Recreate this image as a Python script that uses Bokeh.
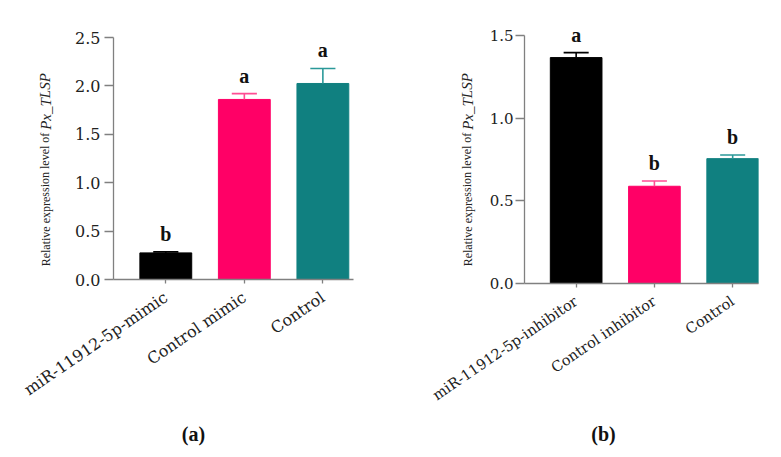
from bokeh.plotting import figure
from bokeh.models import ColumnDataSource, FixedTicker, Label, LabelSet, Range1d, GridBox
from bokeh.layouts import row
from bokeh.embed import file_html
from bokeh.resources import INLINE

# ---- data ----
cats_a = ["miR-11912-5p-mimic", "Control mimic", "Control"]
vals_a = [0.275, 1.86, 2.025]
err_a = [0.01, 0.06, 0.155]
letters_a = ["b", "a", "a"]

cats_b = ["miR-11912-5p-inhibitor", "Control inhibitor", "Control"]
vals_b = [1.366, 0.588, 0.755]
err_b = [0.03, 0.032, 0.022]
letters_b = ["a", "b", "b"]

yticks_a = [0.0, 0.5, 1.0, 1.5, 2.0, 2.5]
yticks_b = [0.0, 0.5, 1.0, 1.5]

bar_colors = ["#000000", "#FF0066", "#108080"]
err_colors = ["#000000", "#FF4D94", "#2A9999"]

YLAB = "Relative expression level of"
YLAB_IT = "Px_TLSP"
captions = ["(a)", "(b)"]

W, H = 773, 457


def panel(cats, vals, errs, letters, bl, br, bt, bb, xr, yr, yticks,
          tick_size, xlab_size, standoff):
    x = list(range(len(cats)))
    tops = [v + e for v, e in zip(vals, errs)]
    src = ColumnDataSource(dict(x=x, v=vals, top=tops, c=bar_colors, ec=err_colors,
                                lab=letters,
                                xl=[i - 0.16 for i in x], xr=[i + 0.16 for i in x]))
    p = figure(width=W, height=H, output_backend="svg", toolbar_location=None,
               x_range=Range1d(*xr), y_range=Range1d(*yr),
               min_border_left=bl, min_border_right=br, min_border_top=bt,
               min_border_bottom=bb)
    p.title = None
    p.outline_line_color = None
    p.grid.visible = False
    p.background_fill_color = None
    p.border_fill_color = None

    p.vbar(x="x", top="v", width=0.66, bottom=0, fill_color="c", line_color="c", source=src)
    p.segment(x0="x", y0="v", x1="x", y1="top", line_color="ec", line_width=1.6, source=src)
    p.segment(x0="xl", y0="top", x1="xr", y1="top", line_color="ec", line_width=1.6, source=src)

    p.add_layout(LabelSet(x="x", y="top", text="lab", source=src, y_offset=11,
                          text_align="center", text_baseline="alphabetic",
                          text_font="DejaVu Serif", text_font_size="20px",
                          text_font_style="bold", text_color="#111111"))

    ya = p.yaxis[0]
    ya.ticker = FixedTicker(ticks=yticks)
    ya.bounds = (yticks[0], yticks[-1])
    ya.major_label_overrides = {t: f"{t:.1f}" for t in yticks}
    ya.axis_line_color = "#808080"
    ya.major_tick_line_color = "#808080"
    ya.axis_line_width = 1.3
    ya.major_tick_line_width = 1.3
    ya.major_tick_out = 9
    ya.major_tick_in = 0
    ya.minor_tick_line_color = None
    ya.major_label_standoff = standoff
    ya.major_label_text_font = "DejaVu Serif"
    ya.major_label_text_font_size = tick_size
    ya.major_label_text_color = "#222222"

    xa = p.xaxis[0]
    xa.ticker = FixedTicker(ticks=x)
    xa.major_label_overrides = {i: c for i, c in zip(x, cats)}
    xa.major_label_orientation = 0.6
    xa.axis_line_color = "#808080"
    xa.major_tick_line_color = "#808080"
    xa.axis_line_width = 1.3
    xa.major_tick_line_width = 1.3
    xa.major_tick_out = 4
    xa.major_tick_in = 0
    xa.minor_tick_line_color = None
    xa.major_label_standoff = 12
    xa.major_label_text_font = "DejaVu Serif"
    xa.major_label_text_font_size = xlab_size
    xa.major_label_text_color = "#222222"
    return p


# panel (a): frame x 113..353, y 37..279 ; panel (b): frame x 524..758, y 25..283
pa = panel(cats_a, vals_a, err_a, letters_a, 113, W - 353, 37, H - 279,
           (-0.666, 2.39), (0, 2.5), yticks_a, "16px", "16px", 4)
pb = panel(cats_b, vals_b, err_b, letters_b, 524, W - 758, 25, H - 283,
           (-0.66, 2.33), (0, 1.56), yticks_b, "15px", "14.5px", 2)

# transparent overlay carrying the y-axis titles and the panel captions
ov = figure(width=W, height=H, output_backend="svg", toolbar_location=None,
            x_axis_location=None, y_axis_location=None, min_border=0,
            x_range=Range1d(0, 1), y_range=Range1d(0, 1))
ov.title = None
ov.outline_line_color = None
ov.grid.visible = False
ov.background_fill_color = None
ov.border_fill_color = None

for cx in [45, 467]:
    ov.add_layout(Label(x=cx, y=H - 199, x_units="screen", y_units="screen",
                        text=YLAB, angle=1.5708, text_align="center", text_baseline="middle",
                        text_font="Liberation Serif", text_font_size="12px",
                        text_color="#222222"))
    ov.add_layout(Label(x=cx, y=H - 101, x_units="screen", y_units="screen",
                        text=YLAB_IT, angle=1.5708, text_align="center", text_baseline="middle",
                        text_font="Liberation Serif", text_font_size="15px",
                        text_font_style="italic", text_color="#222222"))

for cx, t in zip([193, 603], captions):
    ov.add_layout(Label(x=cx, y=H - 433, x_units="screen", y_units="screen",
                        text=t, text_align="center", text_baseline="middle",
                        text_font="Liberation Serif", text_font_size="20px",
                        text_font_style="bold", text_color="#111111"))

# each panel in its own container so their frames are not aligned to each other
layout = GridBox(children=[(row(pa), 0, 0), (row(pb), 0, 0), (row(ov), 0, 0)])
open("out.html", "w").write(file_html(layout, INLINE))
